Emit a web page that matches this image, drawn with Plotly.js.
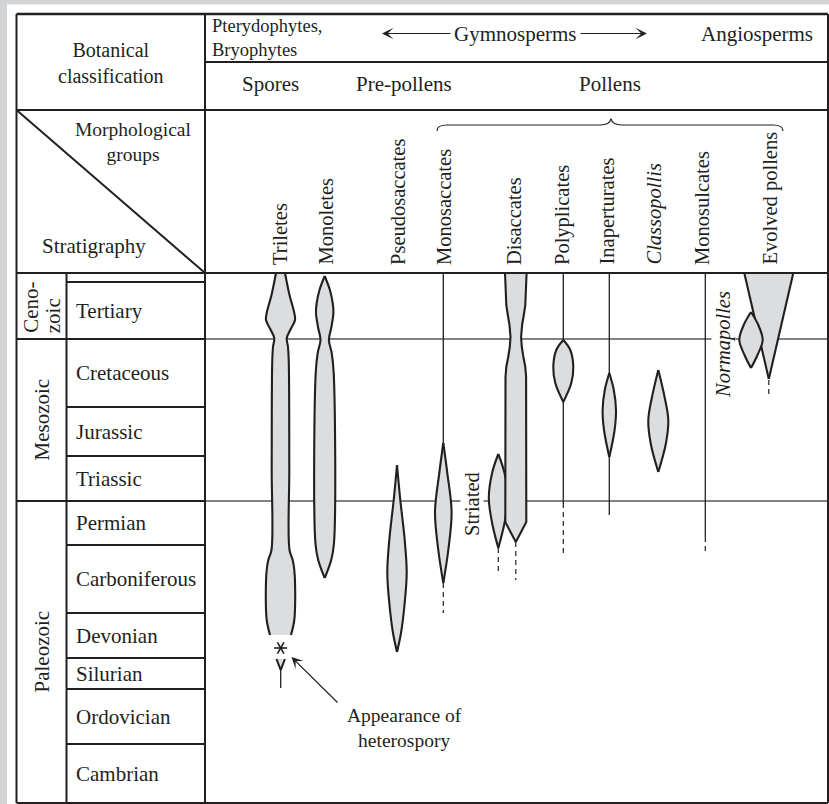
<!DOCTYPE html>
<html><head><meta charset="utf-8">
<script src="https://cdn.plot.ly/plotly-3.0.1.min.js"></script>
<style>html,body{margin:0;padding:0;background:#fff}#chart{width:829px;height:804px}</style>
</head><body><div id="chart"></div>
<script>
// ===== DATA (diagram units: x across the groups, y = stratigraphic depth, top of column = 273) =====
const eraNames   = [['Ceno-','zoic'], ['Mesozoic'], ['Paleozoic']];
const eraBounds  = [273, 339, 501, 803];
const periods    = ['Tertiary','Cretaceous','Jurassic','Triassic','Permian','Carboniferous','Devonian','Silurian','Ordovician','Cambrian'];
const periodBounds = [282, 339, 407, 456, 501, 545, 613, 658, 689, 744, 803];

const groups = ['Triletes','Monoletes','Pseudosaccates','Monosaccates','Disaccates','Polyplicates','Inaperturates','<i>Classopollis</i>','Monosulcates','Evolved pollens'];
const groupX = [280, 325, 398, 444, 514, 562, 607, 654, 702, 770];

const botanical = ['Pterydophytes,<br>Bryophytes', 'Gymnosperms', 'Angiosperms'];
const grains    = ['Spores', 'Pre-pollens', 'Pollens'];

// range bodies: centre, depth points, half-widths
const triletesX = 280.5;
const triletesY  = [273, 295, 313, 320, 328, 338, 347, 363, 467, 550, 560, 570, 593, 620, 635];
const triletesHW = [4.5, 9, 13.8, 14.5, 10.8, 6.3, 7.5, 8.3, 8.8, 9, 12.2, 13.8, 14.7, 13.8, 10.5];

const monoletesX = 324.7;
const monoletesY  = [276, 290, 303, 313, 327, 340, 353, 373, 543, 560, 578];
const monoletesHW = [0, 5.2, 8, 8.7, 6.7, 4.2, 7, 9, 9.3, 6.5, 0];

const pseudoX = 397;
const pseudoY  = [465, 500, 540, 573, 607, 633, 652];
const pseudoHW = [0, 3.3, 7.7, 9.7, 7.3, 4, 0];

const monosacX = 443.3;
const monosacY  = [443, 473, 512, 550, 583];
const monosacHW = [0, 4, 8.3, 5, 0];

const striatedX = 498.3;
const striatedY  = [454, 473, 498, 523, 548];
const striatedHW = [0, 6.2, 9.5, 6.2, 0];

const disacX = 515.8;
const disacY  = [273, 295, 305, 315, 325, 337, 347, 357, 367, 377, 522, 542];
const disacHW = [10.8, 10.3, 9.5, 8, 6.3, 5.3, 6, 7.6, 9.5, 10.3, 10.5, 0];

const polyX = 563.3;
const polyY  = [340, 350, 367, 383, 402];
const polyHW = [0, 7, 10, 8, 0];

const inapX = 609.3;
const inapY  = [373, 390, 410, 430, 457];
const inapHW = [0, 4.5, 6.7, 5.3, 0];

const classoX = 658.3;
const classoY  = [370, 397, 420, 443, 472];
const classoHW = [0, 6.3, 10, 7.7, 0];

const normaX = 751;
const normaY  = [312, 325, 340, 355, 368];
const normaHW = [0, 7.3, 11.7, 6.5, 0];

const evolvedX = 768.8;
const evolvedY  = [273, 379];
const evolvedHW = [24.5, 0];

const heteroX = 280.7;          // appearance of heterospory
const heteroStarY = 648;
const heteroVY  = [659, 670];
const heteroVHW = [4.2, 0];

// occurrence lines (solid / dashed)
const stemX      = [443.3, 563.3, 563.3, 609.3, 609.3, 705.3, 280.7];
const stemTop    = [273,   273,   402,   273,   457,   273,   670];
const stemBottom = [443,   340,   503,   373,   515,   537,   688];
const dashX      = [443.3, 498.3, 515.8, 563.3, 705.3, 768.8];
const dashTop    = [583,   548,   542,   503,   537,   380];
const dashBottom = [613,   572,   580,   557,   552,   395];

// ===== DRAWING =====
const INK = '#231f20', FILL = '#dcddde', GRID = '#808285', FRAME = '#d3d4d5';
const FONT = 'Liberation Serif, Times New Roman, serif';
const traces = [];

function line(xs, ys, dash, w) {
  traces.push({type:'scatter', mode:'lines', x:xs, y:ys, hoverinfo:'skip', showlegend:false,
    line:{color:INK, width:w || 1.3, dash: dash || 'solid'}});
}
stemX.forEach((x,i)=> line([x,x],[stemTop[i],stemBottom[i]]));
dashX.forEach((x,i)=> line([x,x],[dashTop[i],dashBottom[i]], '5px,4px', 1.2));

function body(cx, ys, hws, shape) {
  const base = {type:'scatter', mode:'lines', hoverinfo:'skip', showlegend:false,
    line:{color:INK, width:2.1, shape: shape || 'spline', smoothing: 1}};
  traces.push(Object.assign({}, base, {x: ys.map((y,i)=>cx - hws[i]), y: ys}));
  traces.push(Object.assign({}, base, {x: ys.map((y,i)=>cx + hws[i]), y: ys, fill:'tonextx', fillcolor: FILL}));
}
body(triletesX, triletesY, triletesHW);
body(monoletesX, monoletesY, monoletesHW);
body(pseudoX, pseudoY, pseudoHW);
body(monosacX, monosacY, monosacHW);
body(striatedX, striatedY, striatedHW);
body(disacX, disacY, disacHW, 'linear');
body(polyX, polyY, polyHW);
body(inapX, inapY, inapHW);
body(classoX, classoY, classoHW);
body(evolvedX, evolvedY, evolvedHW, 'linear');
body(normaX, normaY, normaHW);
body(heteroX, heteroVY, heteroVHW, 'linear');

// heterospory star (three strokes through the event point)
(function(){
  const r = 6.5, xs = [], ys = [];
  [0, 60, 120].forEach(a => {
    const t = a*Math.PI/180;
    xs.push(heteroX - r*Math.cos(t), heteroX + r*Math.cos(t), null);
    ys.push(heteroStarY - r*Math.sin(t), heteroStarY + r*Math.sin(t), null);
  });
  traces.push({type:'scatter', mode:'lines', x:xs, y:ys, hoverinfo:'skip', showlegend:false, line:{color:INK, width:1.6}});
})();

// ===== TABLE =====
const L = 16.5, R = 828, T = 14, B = 803, C1 = 66.5, C2 = 205;
const shapes = [];
function seg(x0,y0,x1,y1,color,w,layer){ shapes.push({type:'line', xref:'x', yref:'y', x0,y0,x1,y1, layer: layer||'above', line:{color:color||INK, width:w||2}}); }
shapes.push({type:'rect', xref:'paper', yref:'paper', x0:0, x1:1, y0:0, y1:1, layer:'below', fillcolor:FRAME, line:{width:0}});
shapes.push({type:'rect', xref:'x', yref:'y', x0:7, x1:829, y0:4.5, y1:804, layer:'below', fillcolor:'#fff', line:{width:0}});
// era boundary lines across the chart (grey)
eraBounds.slice(1,3).forEach(y => seg(C2, y, R, y, GRID, 2, 'below'));
// frame
seg(L,T,R,T,INK,2.4); seg(L,B,R,B); seg(L,T,L,B); seg(R,T,R,B);
seg(C2,T,C2,B); seg(C2,62,R,62); seg(L,110,R,110); seg(L,273,R,273);
seg(L,110,C2,273,INK,2);
seg(C1,273,C1,B);
eraBounds.slice(1,3).forEach(y => seg(L,y,C2,y));
periodBounds.slice(0,-1).forEach(y => seg(C1,y,C2,y));
// brace over the pollen groups
shapes.push({type:'path', xref:'x', yref:'y', layer:'above', line:{color:INK, width:1.2},
  path:'M 437 131 Q 437 125 447 125 L 600 125 Q 610 125 611 118.5 Q 612 125 622 125 L 773 125 Q 783 125 783 131'});

// ===== TEXT =====
const ann = [];
function txt(text, x, y, o){ ann.push(Object.assign({text, x, y, xref:'x', yref:'y', showarrow:false,
  font:{family:FONT, size:21, color:INK}, xanchor:'center', yanchor:'middle', borderpad:0}, o||{})); }

txt('Botanical<br>classification', 110.5, 63, {font:{family:FONT, size:20, color:INK}});
txt(botanical[0], 211, 37.5, {xanchor:'left', align:'left', font:{family:FONT, size:18.5, color:INK}});
txt(botanical[1], 515.5, 34); txt(botanical[2], 757, 34);
txt(grains[0], 270, 84); txt(grains[1], 404, 84); txt(grains[2], 610, 84);
txt('Morphological<br>groups', 133, 142, {font:{family:FONT, size:19.5, color:INK}});
txt('Stratigraphy', 94, 246);

groups.forEach((g,i)=> txt(g, groupX[i], 266, {textangle:-90, yanchor:'bottom', font:{family:FONT, size:20.5, color:INK}}));

periods.forEach((p,i)=> txt(p, 75, (periodBounds[i]+periodBounds[i+1])/2, {xanchor:'left'}));
eraNames.forEach((lines,i)=>{
  const mid = (eraBounds[i]+eraBounds[i+1])/2, cx = (L+C1)/2, n = lines.length;
  lines.forEach((s,k)=>{
    const x = cx + (k-(n-1)/2)*22.5;
    if (n>1) txt(s, x, eraBounds[i+1]-5, {textangle:-90, yanchor:'bottom'});
    else txt(s, x, mid, {textangle:-90});
  });
});

txt('Striated', 472, 504, {textangle:-90, bgcolor:'#fff', font:{family:FONT, size:20.5, color:INK}});
txt('<i>Normapolles</i>', 723, 345, {textangle:-90, bgcolor:'#fff', font:{family:FONT, size:20.5, color:INK}});
txt('Appearance of<br>heterospory', 404, 728, {font:{family:FONT, size:19.5, color:INK}});

// arrows
function arrow(x, y, ax, ay){ ann.push({x, y, ax, ay, xref:'x', yref:'y', axref:'x', ayref:'y', text:'', showarrow:true,
  arrowhead:3, arrowsize:1.6, arrowwidth:1.2, arrowcolor:INK, standoff:0, startstandoff:0}); }
arrow(382, 33.5, 452, 33.5);
arrow(647, 33.5, 579, 33.5);
arrow(291.5, 657, 339, 704);

const layout = {
  width:829, height:804, margin:{l:0,r:0,t:0,b:0},
  paper_bgcolor:'#fff', plot_bgcolor:'#fff', showlegend:false,
  xaxis:{range:[0,829], visible:false, fixedrange:true},
  yaxis:{range:[804,0], visible:false, fixedrange:true},
  shapes, annotations: ann
};
Plotly.newPlot('chart', traces, layout, {staticPlot:true, displayModeBar:false});
</script></body></html>
